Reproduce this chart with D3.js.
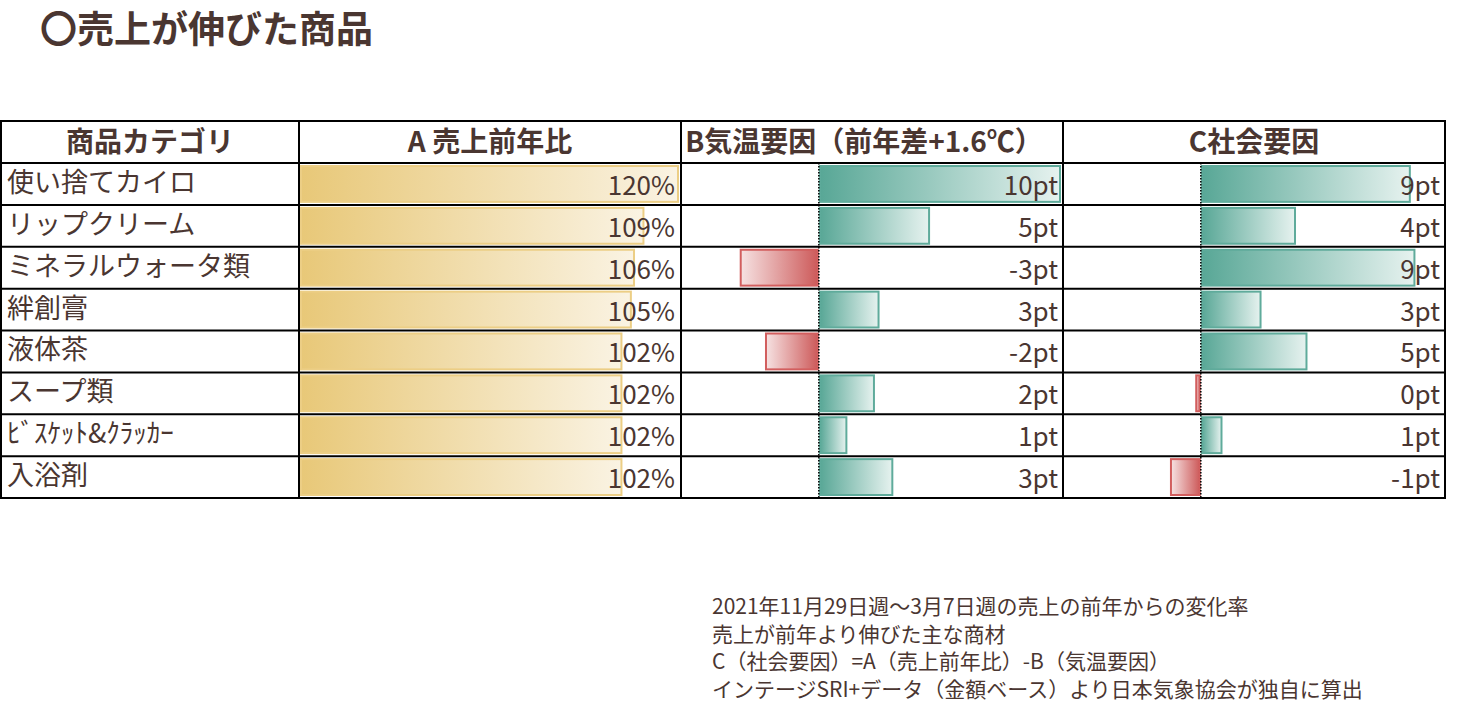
<!DOCTYPE html>
<html lang="ja">
<head>
<meta charset="utf-8">
<script src="https://cdn.jsdelivr.net/npm/d3@7"></script>
<style>
  html, body { margin: 0; padding: 0; background: #fff; }
  svg { display: block; }
  text { font-family: "Noto Sans CJK JP", "Noto Sans", sans-serif; }
</style>
</head>
<body>
<svg id="chart" width="1472" height="717"></svg>
<script>
// ---- data ----
const title = "〇売上が伸びた商品";
const headers = ["商品カテゴリ", "A 売上前年比", "B気温要因（前年差+1.6℃）", "C社会要因"];
const categories = ["使い捨てカイロ", "リップクリーム", "ミネラルウォータ類", "絆創膏", "液体茶", "スープ類", "ﾋﾞｽｹｯﾄ&ｸﾗｯｶｰ", "入浴剤"];
const salesRatio = [120, 109, 106, 105, 102, 102, 102, 102];          // A (%)
const tempFactor = [10.5, 4.8, -3.4, 2.6, -2.3, 2.4, 1.2, 3.2];        // B (pt)
const socialFactor = [9.1, 4.1, 9.3, 2.6, 4.6, -0.2, 0.9, -1.3];      // C (pt)
const tempLabels = ["10pt", "5pt", "-3pt", "3pt", "-2pt", "2pt", "1pt", "3pt"];
const socialLabels = ["9pt", "4pt", "9pt", "3pt", "5pt", "0pt", "1pt", "-1pt"];
const notes = [
  "2021年11月29日週～3月7日週の売上の前年からの変化率",
  "売上が前年より伸びた主な商材",
  "C（社会要因）=A（売上前年比）-B（気温要因）",
  "インテージSRI+データ（金額ベース）より日本気象協会が独自に算出"
];

// ---- layout ----
const svg = d3.select("#chart");
const brown = "#4a3631";
const colX = [1, 299, 681, 1063, 1445];
const tableTop = 121, headerH = 42;
const rowBand = d3.scaleBand().domain(categories).range([163, 498]).paddingInner(0).paddingOuter(0);
const barPad = 3;

// gradients
const defs = svg.append("defs");
function grad(id, c0, c1) {
  const g = defs.append("linearGradient").attr("id", id).attr("x1", "0%").attr("x2", "100%").attr("y1", "0%").attr("y2", "0%");
  g.append("stop").attr("offset", "0%").attr("stop-color", c0);
  g.append("stop").attr("offset", "100%").attr("stop-color", c1);
}
grad("gA", "#e8c878", "#faf3e3");
grad("gPos", "#58a796", "#e6f2ef");
grad("gNeg", "#f6e2e2", "#cd5a5a");

// title
svg.append("text").attr("x", 40).attr("y", 43).attr("font-size", 37).attr("font-weight", 700)
  .attr("fill", brown).text(title);

// scales
const xA = d3.scaleLinear().domain([0, 120]).range([colX[1] + 2, colX[2] - 3]);
const xB = d3.scaleLinear().domain([-6, 10.5]).range([colX[2], colX[2] + 379]);
const xC = d3.scaleLinear().domain([-6, 10.5]).range([colX[3], colX[3] + 379]);

// header texts
headers.forEach((h, i) => {
  svg.append("text").attr("x", (colX[i] + colX[i + 1]) / 2 - (i === 2 ? 8 : 0))
    .attr("y", tableTop + headerH / 2 + 10).attr("text-anchor", "middle")
    .attr("font-size", 28).attr("font-weight", 700).attr("fill", brown).text(h);
});

const rows = svg.append("g");
const bh = rowBand.bandwidth() - 2 * barPad;

// A bars
rows.selectAll("rect.a").data(salesRatio).join("rect").attr("class", "a")
  .attr("x", xA(0)).attr("y", (d, i) => rowBand(categories[i]) + barPad)
  .attr("width", d => xA(d) - xA(0)).attr("height", bh)
  .attr("fill", "url(#gA)").attr("stroke", "#ecce85").attr("stroke-width", 2);

function diverging(cls, data, x) {
  rows.selectAll("rect." + cls).data(data).join("rect").attr("class", cls)
    .attr("x", d => Math.min(x(0), x(d)) + (d >= 0 ? 1 : 0))
    .attr("y", (d, i) => rowBand(categories[i]) + barPad)
    .attr("width", d => Math.max(2, Math.abs(x(d) - x(0)) - 1))
    .attr("height", bh)
    .attr("fill", d => d >= 0 ? "url(#gPos)" : "url(#gNeg)")
    .attr("stroke", d => d >= 0 ? "#5fab9b" : "#d25e5e").attr("stroke-width", 2);
  svg.append("line").attr("x1", x(0)).attr("x2", x(0)).attr("y1", 163).attr("y2", 498)
    .attr("stroke", "#000").attr("stroke-width", 1.5).attr("stroke-dasharray", "1.5,1.5");
}
diverging("b", tempFactor, xB);
diverging("c", socialFactor, xC);

// text labels
const txt = svg.append("g").attr("font-size", 26).attr("fill", brown);
txt.selectAll("text.cat").data(categories).join("text").attr("class", "cat")
  .attr("x", 7).attr("y", d => rowBand(d) + rowBand.bandwidth() / 2 + 8).attr("font-size", 27).text(d => d);
txt.selectAll("text.va").data(salesRatio).join("text").attr("class", "va")
  .attr("x", colX[2] - 6).attr("y", (d, i) => rowBand(categories[i]) + rowBand.bandwidth() / 2 + 11)
  .attr("text-anchor", "end").text(d => d + "%");
txt.selectAll("text.vb").data(tempLabels).join("text").attr("class", "vb")
  .attr("x", colX[3] - 5).attr("y", (d, i) => rowBand(categories[i]) + rowBand.bandwidth() / 2 + 11)
  .attr("text-anchor", "end").text(d => d);
txt.selectAll("text.vc").data(socialLabels).join("text").attr("class", "vc")
  .attr("x", colX[4] - 5).attr("y", (d, i) => rowBand(categories[i]) + rowBand.bandwidth() / 2 + 11)
  .attr("text-anchor", "end").text(d => d);

// grid lines
const grid = svg.append("g").attr("stroke", "#000").attr("fill", "none");
[tableTop + headerH].concat(categories.slice(1).map(c => rowBand(c))).forEach(y => {
  grid.append("line").attr("x1", colX[0]).attr("x2", colX[4]).attr("y1", y).attr("y2", y).attr("stroke-width", 2);
});
colX.slice(1, 4).forEach(x => {
  grid.append("line").attr("x1", x).attr("x2", x).attr("y1", tableTop).attr("y2", 498).attr("stroke-width", 2);
});
grid.append("rect").attr("x", colX[0]).attr("y", tableTop).attr("width", colX[4] - colX[0]).attr("height", 498 - tableTop).attr("stroke-width", 2);

// notes
svg.append("g").selectAll("text").data(notes).join("text")
  .attr("x", 712).attr("y", (d, i) => 614 + i * 27.5).attr("font-size", 21).attr("fill", brown).text(d => d);
</script>
</body>
</html>
